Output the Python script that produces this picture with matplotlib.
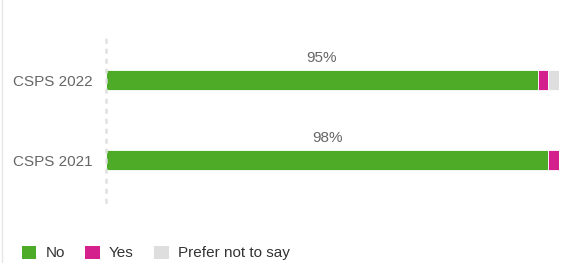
import numpy as np
import matplotlib.pyplot as plt
from matplotlib.lines import Line2D
from matplotlib.patches import Patch

plt.rcParams['font.family'] = ['Liberation Sans', 'DejaVu Sans']

categories = ['CSPS 2021', 'CSPS 2022']
series_names = ['No', 'Yes', 'Prefer not to say']
no_vals = [97.6, 95.3]
yes_vals = [2.4, 2.3]
pnts_vals = [0, 2.4]
label_vals = ['98%', '95%']

colors = ['#4dab27', '#d4208c', '#dedede']
text_color = '#666666'

fig = plt.figure(figsize=(5.7, 2.63), dpi=100)
ax = fig.add_axes([106 / 570, 1 - 202 / 263, (559 - 106) / 570, 164 / 263])

y = np.arange(len(categories))
left = np.zeros(len(categories))
for vals, col in zip([no_vals, yes_vals, pnts_vals], colors):
    ax.barh(y, vals, left=left, height=0.25, color=col, edgecolor='white', linewidth=0.6)
    left += np.array(vals)

# value labels above the green segment
for i, lab in enumerate(label_vals):
    ax.text(no_vals[i] / 2, y[i] + 0.19, lab, ha='center', va='bottom',
            fontsize=11, color=text_color)

ax.set_xlim(0, 100)
ax.set_ylim(-0.52, 1.53)
ax.set_yticks(y)
ax.set_yticklabels(categories, fontsize=11, color=text_color)
ax.tick_params(axis='y', length=0, pad=9.5)
ax.set_xticks([])
for s in ['top', 'right', 'bottom']:
    ax.spines[s].set_visible(False)
ax.spines['left'].set_color('#e0e0e0')
ax.spines['left'].set_linestyle((0, (1.0, 3.0)))
ax.spines['left'].set_linewidth(1.8)

# faint page border on the left
fig.add_artist(Line2D([2 / 570, 2 / 570], [0, 1], color='#e6e6e6', lw=1,
                      transform=fig.transFigure))

handles = [Patch(facecolor=c, edgecolor='none') for c in colors]
fig.legend(handles, series_names, loc='center left', bbox_to_anchor=(8 / 570, 1 - 253 / 263),
           ncol=3, frameon=False, fontsize=11, handlelength=0.95, handleheight=0.95,
           handletextpad=0.6, columnspacing=1.35, labelcolor='#333333')

fig.savefig('out.png', dpi=100)
